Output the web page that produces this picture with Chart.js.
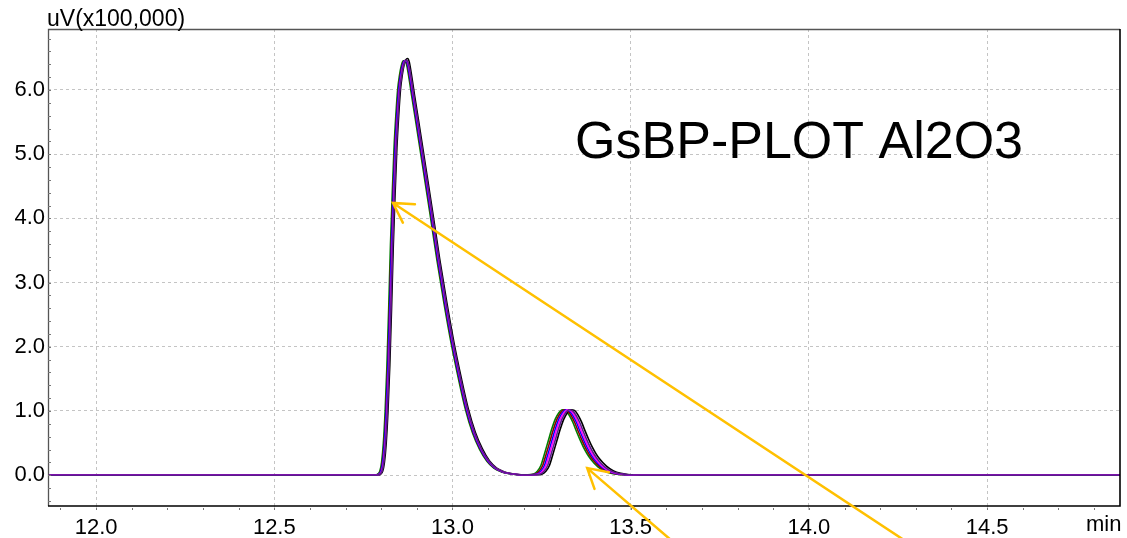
<!DOCTYPE html>
<html>
<head>
<meta charset="utf-8">
<script src="https://cdn.jsdelivr.net/npm/chart.js@4.4.1/dist/chart.umd.min.js"></script>
<style>
  html, body { margin: 0; padding: 0; background: #fff; }
  #wrap { width: 1127px; height: 538px; }
</style>
</head>
<body>
<div id="wrap"><canvas id="c" width="1127" height="538"></canvas></div>
<script>
// ---- axis / tick data ----
const xTickValues = [12.0, 12.5, 13.0, 13.5, 14.0, 14.5];
const yTickValues = [0, 1, 2, 3, 4, 5, 6];
const xRange = [11.865, 14.873];
const yRange = [-0.48, 6.95];
const yUnitLabel = 'uV(x100,000)';
const xUnitLabel = 'min';
const titleText = 'GsBP-PLOT Al2O3';
const titleAnchor = [13.344, 4.94];

// ---- retention times (min) for each run ----
const timesGreen = [11.865, 12.0, 12.5,
  12.776, 12.786, 12.791, 12.796, 12.801, 12.806, 12.811, 12.816, 12.821, 12.826, 12.831, 12.836, 12.841, 12.846, 12.851, 12.856, 12.861, 12.866, 12.871, 12.876, 12.886, 12.896, 12.916, 12.936, 12.956, 12.976, 12.996, 13.016, 13.036, 13.056, 13.076, 13.096, 13.116, 13.136, 13.156, 13.176, 13.196,
  13.208, 13.228, 13.238, 13.248, 13.258, 13.268, 13.278, 13.288, 13.298, 13.308, 13.318, 13.328, 13.338, 13.348, 13.358, 13.368, 13.378, 13.388, 13.408, 13.428, 13.448, 13.468, 13.488,
  13.55, 14.0, 14.5, 14.873];
const timesRed = [11.865, 12.0, 12.5,
  12.778, 12.788, 12.793, 12.798, 12.803, 12.808, 12.813, 12.818, 12.823, 12.828, 12.833, 12.838, 12.843, 12.848, 12.853, 12.858, 12.863, 12.868, 12.873, 12.878, 12.888, 12.898, 12.918, 12.938, 12.958, 12.978, 12.998, 13.018, 13.038, 13.058, 13.078, 13.098, 13.118, 13.138, 13.158, 13.178, 13.198,
  13.213, 13.233, 13.243, 13.253, 13.263, 13.273, 13.283, 13.293, 13.303, 13.313, 13.323, 13.333, 13.343, 13.353, 13.363, 13.373, 13.383, 13.393, 13.413, 13.433, 13.453, 13.473, 13.493,
  13.55, 14.0, 14.5, 14.873];
const timesBlue = [11.865, 12.0, 12.5,
  12.779, 12.789, 12.794, 12.799, 12.804, 12.809, 12.814, 12.819, 12.824, 12.829, 12.834, 12.839, 12.844, 12.849, 12.854, 12.859, 12.864, 12.869, 12.874, 12.879, 12.889, 12.899, 12.919, 12.939, 12.959, 12.979, 12.999, 13.019, 13.039, 13.059, 13.079, 13.099, 13.119, 13.139, 13.159, 13.179, 13.199,
  13.218, 13.238, 13.248, 13.258, 13.268, 13.278, 13.288, 13.298, 13.308, 13.318, 13.328, 13.338, 13.348, 13.358, 13.368, 13.378, 13.388, 13.398, 13.418, 13.438, 13.458, 13.478, 13.498,
  13.55, 14.0, 14.5, 14.873];
const timesMagenta = [11.865, 12.0, 12.5,
  12.781, 12.791, 12.796, 12.801, 12.806, 12.811, 12.816, 12.821, 12.826, 12.831, 12.836, 12.841, 12.846, 12.851, 12.856, 12.861, 12.866, 12.871, 12.876, 12.881, 12.891, 12.901, 12.921, 12.941, 12.961, 12.981, 13.001, 13.021, 13.041, 13.061, 13.081, 13.101, 13.121, 13.141, 13.161, 13.181, 13.201,
  13.222, 13.242, 13.252, 13.262, 13.272, 13.282, 13.292, 13.302, 13.312, 13.322, 13.332, 13.342, 13.352, 13.362, 13.372, 13.382, 13.392, 13.402, 13.422, 13.442, 13.462, 13.482, 13.502,
  13.55, 14.0, 14.5, 14.873];
const timesPurple = [11.865, 12.0, 12.5,
  12.782, 12.792, 12.797, 12.802, 12.807, 12.812, 12.817, 12.822, 12.827, 12.832, 12.837, 12.842, 12.847, 12.852, 12.857, 12.862, 12.867, 12.872, 12.877, 12.882, 12.892, 12.902, 12.922, 12.942, 12.962, 12.982, 13.002, 13.022, 13.042, 13.062, 13.082, 13.102, 13.122, 13.142, 13.162, 13.182, 13.202,
  13.227, 13.247, 13.257, 13.267, 13.277, 13.287, 13.297, 13.307, 13.317, 13.327, 13.337, 13.347, 13.357, 13.367, 13.377, 13.387, 13.397, 13.407, 13.427, 13.447, 13.467, 13.487, 13.507,
  13.55, 14.0, 14.5, 14.873];
const timesBlack = [11.865, 12.0, 12.5,
  12.784, 12.794, 12.799, 12.804, 12.809, 12.814, 12.819, 12.824, 12.829, 12.834, 12.839, 12.844, 12.849, 12.854, 12.859, 12.864, 12.869, 12.874, 12.879, 12.884, 12.894, 12.904, 12.924, 12.944, 12.964, 12.984, 13.004, 13.024, 13.044, 13.064, 13.084, 13.104, 13.124, 13.144, 13.164, 13.184, 13.204,
  13.232, 13.252, 13.262, 13.272, 13.282, 13.292, 13.302, 13.312, 13.322, 13.332, 13.342, 13.352, 13.362, 13.372, 13.382, 13.392, 13.402, 13.412, 13.432, 13.452, 13.472, 13.492, 13.512,
  13.55, 14.0, 14.5, 14.873];

// ---- detector signal (uV x100,000) ----
const signalRuns = [0, 0, 0,
  0, 0.005, 0.02, 0.06, 0.2, 0.5, 1.0, 1.7, 2.6, 3.6, 4.4, 5.1, 5.6, 6.0, 6.22, 6.37, 6.45, 6.46, 6.40, 6.25, 5.89, 5.54, 4.82, 4.10, 3.36, 2.68, 2.06, 1.52, 1.03, 0.66, 0.40, 0.22, 0.11, 0.055, 0.025, 0.01, 0.005,
  0.006, 0.02, 0.06, 0.15, 0.33, 0.52, 0.71, 0.87, 0.97, 1.02, 1.00, 0.93, 0.82, 0.68, 0.55, 0.43, 0.33, 0.25, 0.13, 0.06, 0.025, 0.01, 0.004,
  0, 0, 0, 0];
const signalBlack = [0, 0, 0,
  0, 0.005, 0.02, 0.06, 0.2, 0.5, 1.0, 1.7, 2.6, 3.6, 4.4, 5.1, 5.6, 6.0, 6.23, 6.39, 6.47, 6.49, 6.43, 6.27, 5.90, 5.55, 4.83, 4.11, 3.37, 2.69, 2.07, 1.53, 1.04, 0.67, 0.41, 0.22, 0.11, 0.055, 0.025, 0.01, 0.005,
  0.006, 0.02, 0.06, 0.15, 0.33, 0.52, 0.71, 0.87, 0.97, 1.02, 1.01, 0.94, 0.83, 0.69, 0.56, 0.44, 0.34, 0.26, 0.14, 0.065, 0.028, 0.011, 0.004,
  0, 0, 0, 0];

// ---- annotation arrows (data coords) ----
const arrowTips  = [[12.833, 4.24], [13.378, 0.11]];
const arrowTails = [[14.264, -1.0], [13.611, -1.0]];

const FONT = '"Liberation Sans", Arial, Helvetica, sans-serif';

function pts(times, vals) { return times.map((t, i) => ({ x: t, y: vals[i] })); }

const runs = [
  { times: timesGreen,   vals: signalRuns,  color: '#008000', order: 5 },
  { times: timesBlack,   vals: signalBlack, color: '#000000', order: 4 },
  { times: timesRed,     vals: signalRuns,  color: '#8b0000', order: 3 },
  { times: timesBlue,    vals: signalRuns,  color: '#0000ff', order: 2 },
  { times: timesMagenta, vals: signalRuns,  color: '#ff00ff', order: 1 },
  { times: timesPurple,  vals: signalRuns,  color: '#5c1a8c', order: 0 }
];

const decor = {
  id: 'decor',
  beforeDraw(chart) {
    const ctx = chart.ctx;
    ctx.save();
    ctx.fillStyle = '#ffffff';
    ctx.fillRect(0, 0, chart.width, chart.height);
    ctx.restore();
  },
  afterDraw(chart) {
    const ctx = chart.ctx;
    const a = chart.chartArea;
    const xs = chart.scales.x, ys = chart.scales.y;
    ctx.save();
    // frame
    ctx.lineWidth = 1.3;
    ctx.strokeStyle = '#555555';
    ctx.beginPath();
    ctx.moveTo(a.left + 0.5, a.bottom); ctx.lineTo(a.left + 0.5, a.top + 0.5); ctx.lineTo(a.right, a.top + 0.5);
    ctx.stroke();
    ctx.strokeStyle = '#000000';
    ctx.lineWidth = 1.6;
    ctx.beginPath();
    ctx.moveTo(a.left, a.bottom); ctx.lineTo(a.right, a.bottom); ctx.lineTo(a.right, a.top);
    ctx.stroke();
    // minor ticks x (every 0.1) below axis
    ctx.strokeStyle = '#777777';
    ctx.lineWidth = 1;
    for (let v = 11.9; v < xRange[1]; v += 0.1) {
      const px = Math.round(xs.getPixelForValue(v)) + 0.5;
      ctx.beginPath(); ctx.moveTo(px, a.bottom + 2); ctx.lineTo(px, a.bottom + 4); ctx.stroke();
    }
    // minor ticks y (every 0.2) inside left axis
    for (let v = -0.4; v < yRange[1]; v += 0.2) {
      const py = Math.round(ys.getPixelForValue(v)) + 0.5;
      ctx.beginPath(); ctx.moveTo(a.left, py); ctx.lineTo(a.left + 3, py); ctx.stroke();
    }
    // unit labels
    ctx.fillStyle = '#000000';
    ctx.font = '23px ' + FONT;
    ctx.textAlign = 'left';
    ctx.textBaseline = 'alphabetic';
    ctx.fillText(yUnitLabel, a.left - 1, a.top - 3);
    ctx.font = '22px ' + FONT;
    ctx.fillText(xUnitLabel, 1086, a.bottom + 25);
    // title
    ctx.font = '52px ' + FONT;
    ctx.fillText(titleText, xs.getPixelForValue(titleAnchor[0]), ys.getPixelForValue(titleAnchor[1]));
    // arrows
    ctx.strokeStyle = '#ffc000';
    ctx.lineWidth = 2.5;
    ctx.lineCap = 'round';
    for (let i = 0; i < arrowTips.length; i++) {
      const tx = xs.getPixelForValue(arrowTips[i][0]), ty = ys.getPixelForValue(arrowTips[i][1]);
      const ex = xs.getPixelForValue(arrowTails[i][0]), ey = ys.getPixelForValue(arrowTails[i][1]);
      const ang = Math.atan2(ey - ty, ex - tx);
      const L = 22, h = Math.PI / 6;
      ctx.beginPath();
      ctx.moveTo(ex, ey); ctx.lineTo(tx, ty);
      ctx.moveTo(tx + L * Math.cos(ang - h), ty + L * Math.sin(ang - h));
      ctx.lineTo(tx, ty);
      ctx.lineTo(tx + L * Math.cos(ang + h), ty + L * Math.sin(ang + h));
      ctx.stroke();
    }
    ctx.restore();
  }
};

new Chart(document.getElementById('c'), {
  type: 'line',
  data: {
    datasets: runs.map(r => ({
      data: pts(r.times, r.vals),
      borderColor: r.color,
      borderWidth: 1.6,
      pointRadius: 0,
      fill: false,
      cubicInterpolationMode: 'monotone',
      order: r.order
    }))
  },
  options: {
    responsive: false,
    devicePixelRatio: 1,
    animation: false,
    layout: { padding: { left: 0, right: 7, top: 29, bottom: 0 } },
    plugins: { legend: { display: false }, tooltip: { enabled: false } },
    scales: {
      x: {
        type: 'linear',
        min: xRange[0], max: xRange[1],
        afterBuildTicks(s) { s.ticks = xTickValues.map(v => ({ value: v })); },
        afterFit(s) { s.height = 32; },
        ticks: {
          autoSkip: false, maxRotation: 0, padding: 5,
          color: '#000', font: { family: FONT, size: 22 },
          callback: v => Number(v).toFixed(1)
        },
        grid: { color: '#c4c4c4', lineWidth: 1, drawTicks: true, tickLength: 4, tickColor: '#c4c4c4' },
        border: { display: false, dash: [3, 3] }
      },
      y: {
        type: 'linear',
        min: yRange[0], max: yRange[1],
        afterBuildTicks(s) { s.ticks = yTickValues.map(v => ({ value: v })); },
        afterFit(s) { s.width = 48; },
        ticks: {
          autoSkip: false, padding: 3,
          color: '#000', font: { family: FONT, size: 22 },
          callback: v => Number(v).toFixed(1)
        },
        grid: { color: '#c4c4c4', lineWidth: 1, drawTicks: false },
        border: { display: false, dash: [3, 3] }
      }
    }
  },
  plugins: [decor]
});
</script>
</body>
</html>
